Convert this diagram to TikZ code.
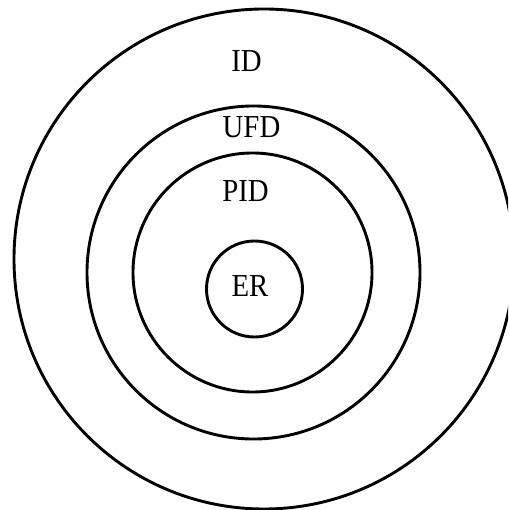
\documentclass[tikz,border=0pt]{standalone}
\usepackage{fontspec}
\newfontfamily\labelfont[FakeStretch=0.9]{Liberation Serif}
\begin{document}
\begin{tikzpicture}[x=1pt,y=-1pt,
  ring/.style={draw=black,line width=2.9pt},
  lbl/.style={inner sep=0pt,font=\labelfont\fontsize{32}{32}\selectfont}]
  \useasboundingbox (0,0) rectangle (508,510);
  \clip (0,0) rectangle (508,510);
  % nested rings
  \draw[ring] (264,259) circle[radius=250];
  \draw[ring] (253.5,272.5) circle[radius=166.5];
  \draw[ring] (252.5,272.5) circle[radius=119.5];
  \draw[ring] (254.5,289) circle[radius=48];
  % ring labels
  \node[lbl] (id)  at (246.5,61.5) {ID};
  \node[lbl] (ufd) at (251.5,127.5) {UFD};
  \node[lbl] (pid) at (245.5,191) {PID};
  \node[lbl] (er)  at (250,286) {ER};
\end{tikzpicture}
\end{document}
